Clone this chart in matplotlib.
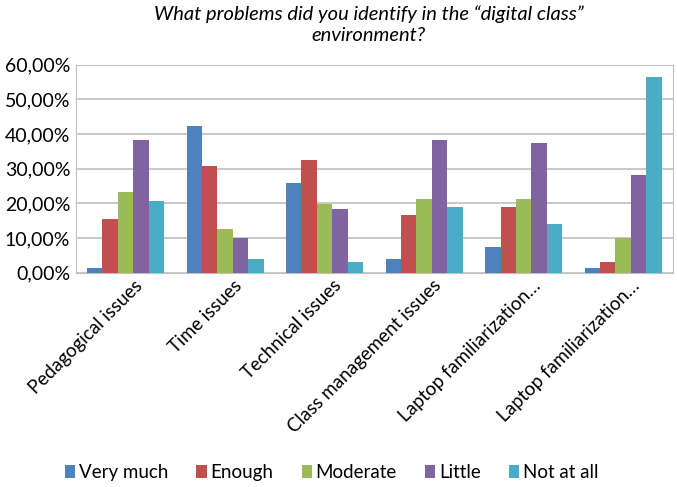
#!/usr/bin/env python3

import matplotlib.pyplot as plt
from matplotlib.ticker import FuncFormatter
import numpy as np

plt.rcParams["font.family"] = ["Lato", "DejaVu Sans"]

categories = [
    "Pedagogical issues",
    "Time issues",
    "Technical issues",
    "Class management issues",
    "Laptop familiarization…",
    "Laptop familiarization…",
]
levels = ["Very much", "Enough", "Moderate", "Little", "Not at all"]

very_much = [1.3, 42.4, 25.8, 4.1, 7.4, 1.3]
enough = [15.6, 30.7, 32.5, 16.6, 19.0, 3.2]
moderate = [23.3, 12.5, 19.9, 21.4, 21.4, 9.9]
little = [38.4, 9.9, 18.4, 38.4, 37.4, 28.3]
not_at_all = [20.8, 4.1, 3.2, 19.0, 14.1, 56.6]

series = [very_much, enough, moderate, little, not_at_all]
colors = ["#4F81BD", "#C0504D", "#9BBB59", "#8064A2", "#4BACC6"]

fig = plt.figure(figsize=(6.77, 4.87), dpi=100)
ax = fig.add_axes([0.112, 0.44, 0.882, 0.427])

x = np.arange(len(categories))
w = 0.155
for i, (vals, name, c) in enumerate(zip(series, levels, colors)):
    ax.bar(x + (i - 2) * w, vals, w, color=c, label=name, zorder=3)

ax.set_xlim(-0.5, len(categories) - 0.5)
ax.set_ylim(0, 60)
ax.set_yticks(range(0, 61, 10))
ax.yaxis.set_major_formatter(FuncFormatter(lambda v, p: f"{v:.2f}%".replace(".", ",")))
ax.grid(axis="y", color="#BFBFBF", linewidth=1.2, zorder=0)
for s in ax.spines.values():
    s.set_color("#BFBFBF")
ax.tick_params(axis="y", length=0, labelsize=14, pad=4)
ax.tick_params(axis="x", length=0, labelsize=13.5, pad=3)

ax.set_xticks(x + 0.08)
ax.set_xticklabels(categories, rotation=45, ha="right", rotation_mode="anchor")

fig.text(0.545, 0.99, "What problems did you identify in the \u201cdigital class\u201d\nenvironment?",
         ha="center", va="top", fontsize=14.5, style="italic", linespacing=1.3)

fig.legend(loc="center", bbox_to_anchor=(0.49, 0.03), ncol=5, frameon=False,
           fontsize=13.5, handlelength=0.55, handleheight=0.7, handletextpad=0.2,
           columnspacing=1.5)

fig.savefig("out.png", dpi=100)
